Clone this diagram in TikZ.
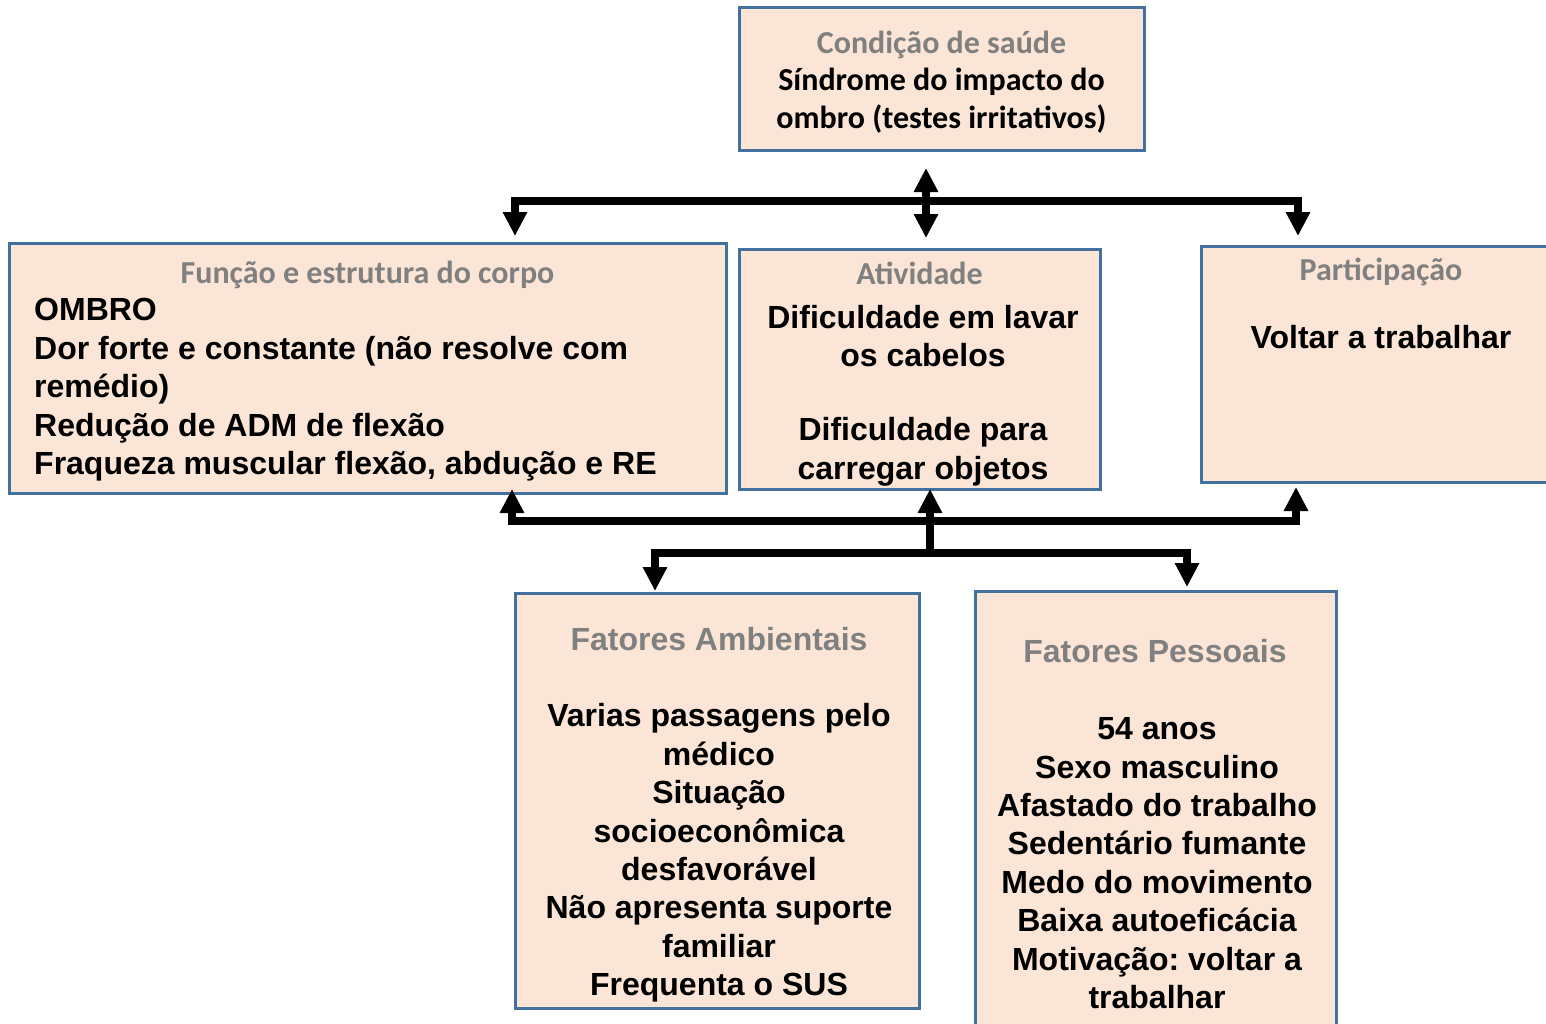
\documentclass[tikz,border=0pt]{standalone}
\usepackage{fontspec}
\setmainfont{Liberation Sans}
\newfontfamily\calib{Carlito}
\usetikzlibrary{arrows.meta}
\definecolor{peach}{HTML}{FBE5D6}
\definecolor{boxblue}{HTML}{41719C}
\definecolor{titlegray}{HTML}{808080}
\frenchspacing
\begin{document}
\begin{tikzpicture}[x=1pt,y=-1pt,
  box/.style={draw=boxblue, line width=3pt, fill=peach, inner sep=0pt, rectangle},
  ttl/.style={font=\calib\bfseries\fontsize{32}{38.4}\selectfont, text=titlegray, inner sep=0pt, anchor=base},
  ttla/.style={font=\bfseries\fontsize{32}{38.4}\selectfont, text=titlegray, inner sep=0pt, anchor=base},
  bodyc/.style={font=\calib\bfseries\fontsize{32}{37.5}\selectfont, inner sep=0pt, anchor=base, align=center},
  body/.style={font=\bfseries\fontsize{32}{38.4}\selectfont, inner sep=0pt, anchor=base, align=center},
  bodyl/.style={font=\bfseries\fontsize{32}{38.5}\selectfont, inner sep=0pt, anchor=base west, align=left},
  conn/.style={line width=7.5pt, line join=miter, -{Triangle[width=23pt,length=24pt]}},
  dconn/.style={line width=7.5pt, {Triangle[width=23pt,length=24pt]}-{Triangle[width=23pt,length=24pt]}}]
\useasboundingbox (0,0) rectangle (1546,1023);
\clip (0,0) rectangle (1546,1023);
\fill[white] (0,0) rectangle (1546,1023);

% boxes
\node[box, minimum width=405pt, minimum height=143pt] (cond) at (941.5,78.5) {};
\node[box, minimum width=717pt, minimum height=250pt] (fe) at (367.5,368) {};
\node[box, minimum width=361pt, minimum height=240pt] (at) at (919.5,369) {};
\node[box, minimum width=360pt, minimum height=236pt] (pa) at (1381,364) {};
\node[box, minimum width=404pt, minimum height=415pt] (fa) at (717,800.5) {};
\node[box, minimum width=361pt, minimum height=469pt] (fp) at (1155.5,825.5) {};

% texts (multi-line nodes: base = baseline of last line)
\node[ttl] (condT) at (941.5,53) {Condição de saúde};
\node[bodyc] (condB) at (941.5,128) {Síndrome do impacto do\\ombro (testes irritativos)};

\node[ttl] (feT) at (367.5,283) {Função e estrutura do corpo};
\node[bodyl] (feB) at (34,474.5) {OMBRO\\Dor forte e constante (não resolve com\\remédio)\\Redução de ADM de flexão\\Fraqueza muscular flexão, abdução e RE};

\node[ttl] (atT) at (919.5,284) {Atividade};
\node[body] (atB) at (923,479) {Dificuldade em lavar\\os cabelos\\[35.6pt]Dificuldade para\\carregar objetos};

\node[ttl] (paT) at (1381,280) {Participação};
\node[body] (paB) at (1381,348.5) {Voltar a trabalhar};

\node[ttla] (faT) at (719,650.5) {Fatores Ambientais};
\node[body] (faB) at (719,995.6) {Varias passagens pelo\\médico\\Situação\\socioeconômica\\desfavorável\\Não apresenta suporte\\familiar\\Frequenta o SUS};

\node[ttla] (fpT) at (1155,662.5) {Fatores Pessoais};
\node[body] (fpB) at (1157,1008.5) {54 anos\\Sexo masculino\\Afastado do trabalho\\Sedentário fumante\\Medo do movimento\\Baixa autoeficácia\\Motivação: voltar a\\trabalhar};

% connector points
\coordinate (jt) at (926,201);
\coordinate (jtU) at (926,168);
\coordinate (jtD) at (926,238);
\coordinate (feIn) at (515,236);
\coordinate (paIn) at (1298,236);
\coordinate (jb) at (930,521);
\coordinate (jc) at (930,553);
\coordinate (feOut) at (512,489);
\coordinate (atOut) at (930,489);
\coordinate (paOut) at (1296,487);
\coordinate (faIn) at (655,591);
\coordinate (fpIn) at (1187,587);

% top connectors
\draw[conn] (jt) -| (feIn);
\draw[conn] (jt) -| (paIn);
\draw[dconn] (jtU) -- (jtD);

% bottom connectors
\draw[conn] (jb) -| (feOut);
\draw[conn] (jb) -| (paOut);
\draw[conn] (jc) -- (atOut);
\draw[conn] (jc) -| (faIn);
\draw[conn] (jc) -| (fpIn);
\end{tikzpicture}
\end{document}
